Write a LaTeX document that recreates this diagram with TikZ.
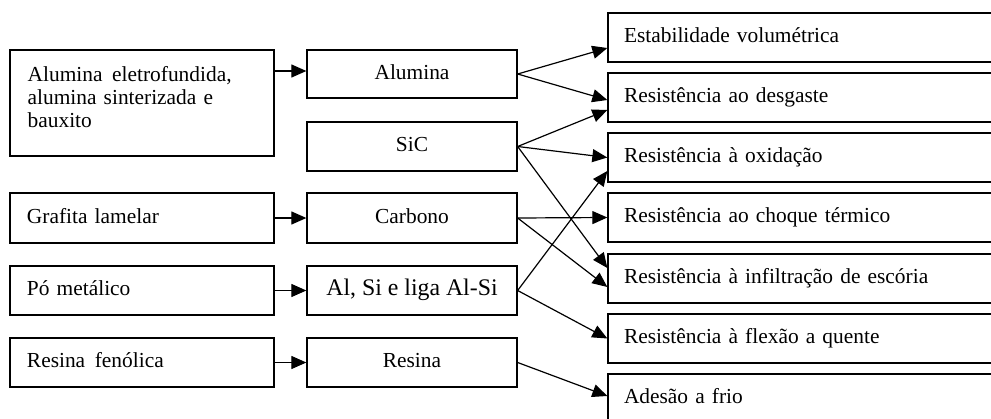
\documentclass[tikz,border=0pt]{standalone}
\usepackage{fontspec}
\setmainfont{Liberation Serif}
\usetikzlibrary{arrows.meta}
\begin{document}
\begin{tikzpicture}[x=1pt,y=-1pt,
  box/.style={draw, line width=1.3pt, inner sep=0pt, font=\fontsize{21.4}{23}\selectfont},
  oneline/.style={text height=15pt, text depth=5pt},
  src/.style={box, minimum width=264pt, text width=230pt, inner xsep=17pt, align=left},
  mid/.style={box, oneline, minimum width=210pt, minimum height=49pt, align=center},
  prop/.style={box, oneline, minimum width=392pt, text width=360pt, inner xsep=16pt, minimum height=49pt, align=left},
  arr/.style={-{Triangle[length=15pt,width=13pt]}, line width=1.2pt}
]
\useasboundingbox (0,0) rectangle (991,418);
\clip (0,0) rectangle (991,418);

% raw materials
\node[src, minimum height=106pt] (s1) at (142,103) {};
\node[box, draw=none, text width=230pt, align=left, anchor=north west] (s1text) at (27,66) {Alumina\hspace{0.45em}eletrofundida,\\alumina sinterizada e\\bauxito};
\node[src, oneline, minimum height=50pt] (s2) at (142,218) {Grafita lamelar};
\node[src, oneline, minimum height=49pt] (s3) at (142,290.5) {Pó metálico};
\node[src, oneline, minimum height=49pt] (s4) at (142,362.5) {Resina\hspace{0.45em}fenólica};

% components
\node[mid, minimum height=48pt] (m1) at (412,74) {Alumina};
\node[mid] (m2) at (412,146.5) {SiC};
\node[mid, minimum height=50pt] (m3) at (412,218) {Carbono};
\node[mid, font=\fontsize{23.8}{26}\selectfont] (m4) at (412,290.5) {Al, Si e liga Al-Si};
\node[mid] (m5) at (412,362.5) {Resina};

% properties
\node[prop] (r1) at (804,37.5) {Estabilidade volumétrica};
\node[prop] (r2) at (804,97.5) {Resistência ao desgaste};
\node[prop] (r3) at (804,157.5) {Resistência à oxidação};
\node[prop] (r4) at (804,217.5) {Resistência ao choque térmico};
\node[prop] (r5) at (804,278.5) {Resistência à infiltração de escória};
\node[prop] (r6) at (804,338.5) {Resistência à flexão a quente};
\node[prop] (r7) at (804,398.5) {Adesão a frio};

% raw material -> component
\draw[arr] ([yshift=3pt]s1.east |- m1.west) -- ([yshift=3pt]m1.west);
\draw[arr] (s2.east) -- (m3.west);
\draw[arr] (s3.east) -- (m4.west);
\draw[arr] (s4.east) -- (m5.west);

% component -> property
\draw[arr] (m1.east) -- ([yshift=-10.5pt]r1.west);
\draw[arr] (m1.east) -- ([yshift=-2.5pt]r2.west);
\draw[arr] (m2.east) -- ([yshift=-12.5pt]r2.west);
\draw[arr] (m2.east) -- (r3.west);
\draw[arr] (m2.east) -- ([yshift=10.5pt]r5.west);
\draw[arr] (m3.east) -- (r4.west);
\draw[arr] (m3.east) -- ([yshift=-8.5pt]r5.west);
\draw[arr] (m4.east) -- ([yshift=-13.5pt]r3.west);
\draw[arr] (m4.east) -- (r6.west);
\draw[arr] (m5.east) -- ([yshift=2.5pt]r7.west);
\end{tikzpicture}
\end{document}
